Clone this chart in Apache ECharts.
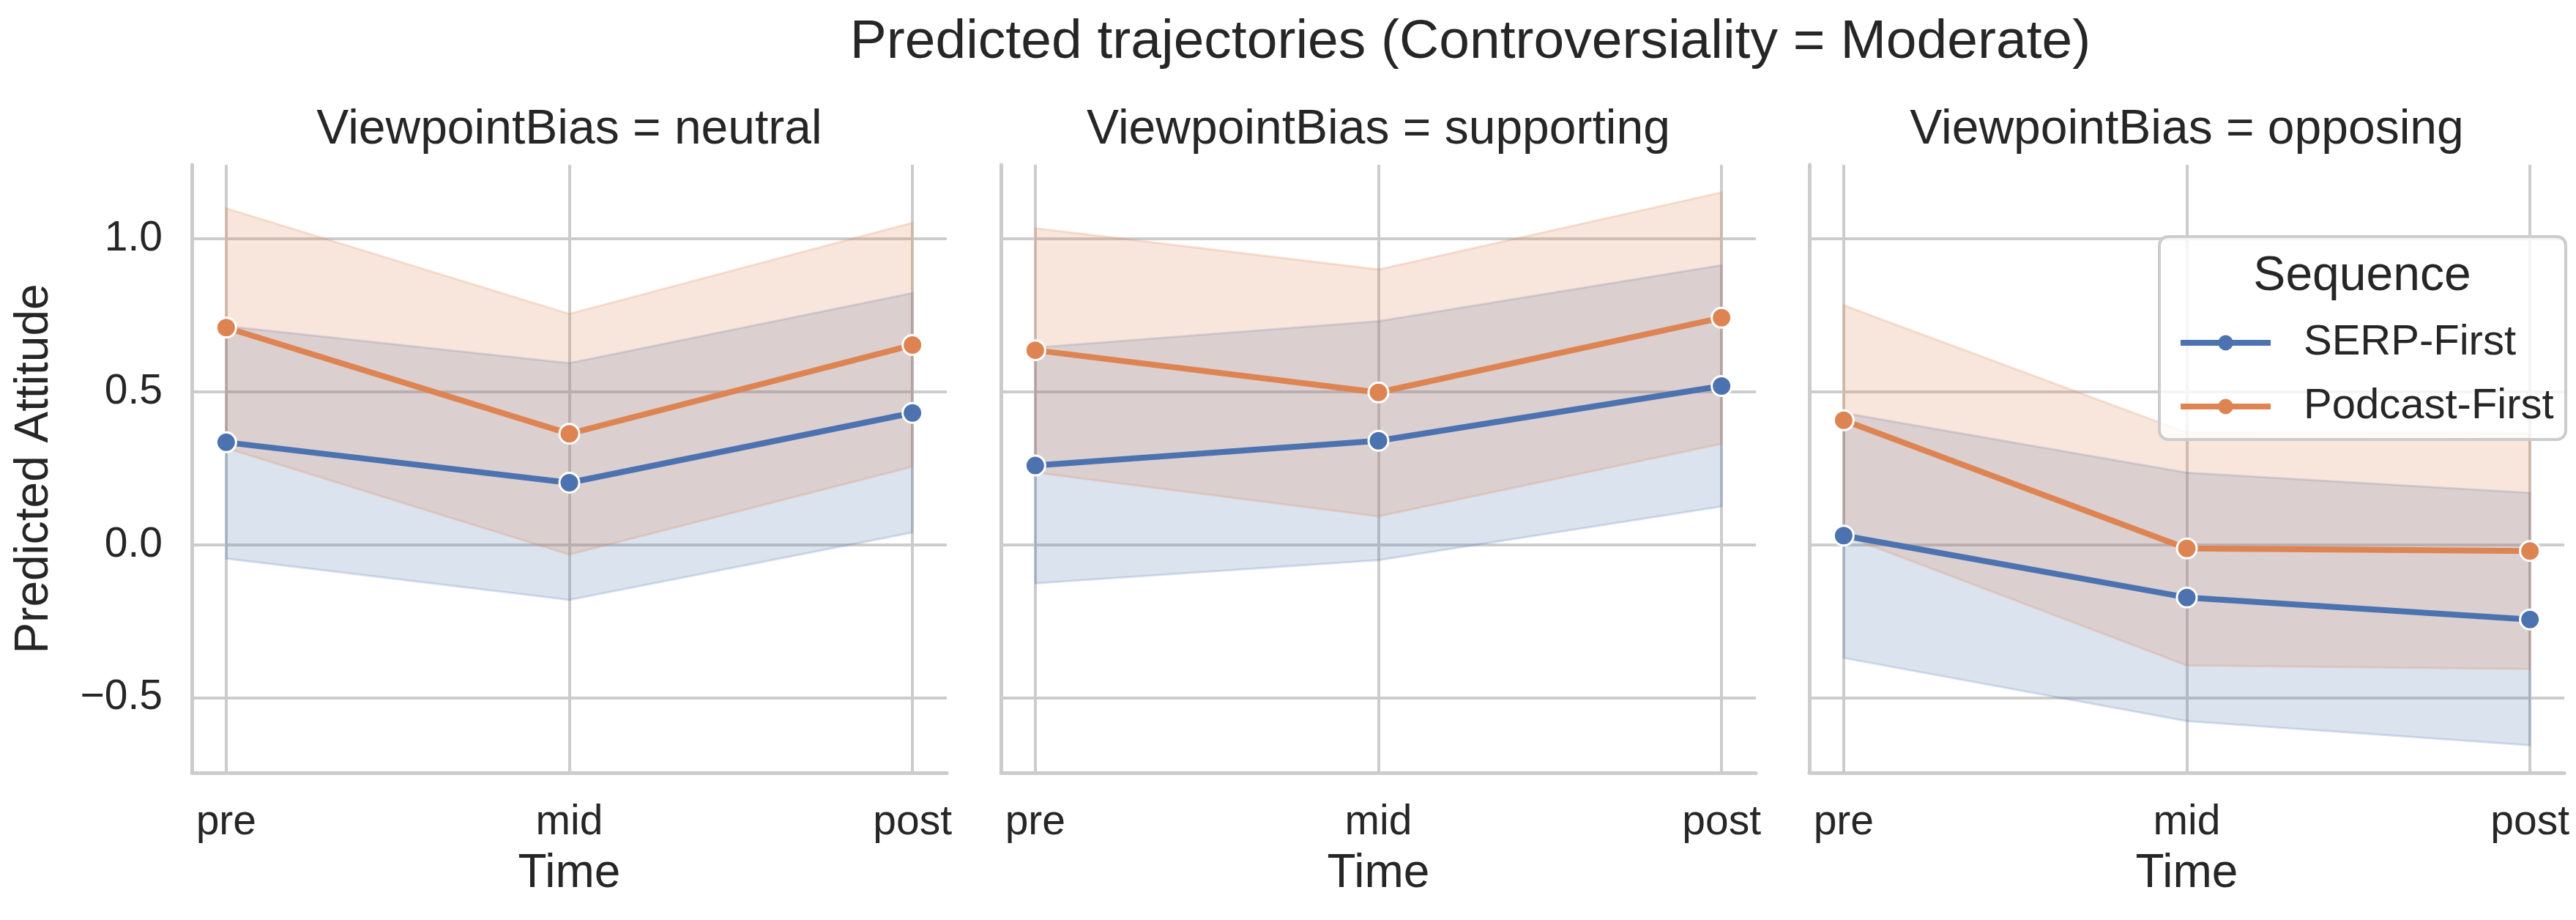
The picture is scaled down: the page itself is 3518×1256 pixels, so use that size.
<!DOCTYPE html>
<html>
<head>
<meta charset="utf-8">
<script src="https://cdn.jsdelivr.net/npm/echarts@6/dist/echarts.min.js"></script>
<style>
html,body{margin:0;padding:0;background:#ffffff;}
#chart{width:3518px;height:1256px;}
</style>
</head>
<body>
<div id="chart"></div>
<script>
// ---- data ----
const times = ['pre', 'mid', 'post'];
const panels = ['neutral', 'supporting', 'opposing'];
const sequences = ['SERP-First', 'Podcast-First'];
const yTicks = [-0.5, 0, 0.5, 1.0];

// rows = panels (neutral, supporting, opposing); cols = times (pre, mid, post)
const serpMean  = [[0.335, 0.203, 0.431], [0.259, 0.340, 0.519], [0.030, -0.172, -0.244]];
const serpLower = [[-0.045, -0.180, 0.040], [-0.126, -0.050, 0.125], [-0.370, -0.576, -0.655]];
const serpUpper = [[0.715, 0.594, 0.823], [0.645, 0.731, 0.914], [0.431, 0.236, 0.170]];

const podMean  = [[0.710, 0.363, 0.653], [0.636, 0.498, 0.742], [0.407, -0.012, -0.020]];
const podLower = [[0.316, -0.032, 0.255], [0.236, 0.093, 0.330], [0.031, -0.394, -0.406]];
const podUpper = [[1.100, 0.755, 1.053], [1.035, 0.900, 1.152], [0.783, 0.367, 0.366]];

// ---- styling ----
const FONT = '"Liberation Sans", Arial, Helvetica, sans-serif';
const TEXT = '#262626';
const GRIDC = '#cccccc';
const BLUE = '#4c72b0';
const ORANGE = '#dd8452';
const BLUE_A = 'rgba(76,114,176,0.2)';
const ORANGE_A = 'rgba(221,132,82,0.2)';

const gridLeft = [262, 1367, 2471];
const gridW = 1031, gridTop = 225, gridH = 830;

function fmtY(v) {
  if (Math.abs(v * 2 - Math.round(v * 2)) > 1e-9) return '';
  const s = Math.abs(v).toFixed(1);
  return v < 0 ? '\u2212' + s : s;
}
function fmtX(v) {
  const r = Math.round(v);
  if (Math.abs(v - r) > 1e-9) return '';
  return times[r] || '';
}

function bandRender(params, api) {
  if (params.dataIndexInside !== 0) return null;
  const n = params.dataInsideLength;
  const up = [], lo = [];
  for (let j = 0; j < n; j++) {
    up.push(api.coord([api.value(0, j), api.value(2, j)]));
    lo.push(api.coord([api.value(0, j), api.value(1, j)]));
  }
  return {
    type: 'polygon',
    shape: { points: up.concat(lo.reverse()) },
    style: api.style()
  };
}

const grids = [], xAxes = [], yAxes = [], series = [];

panels.forEach((p, i) => {
  grids.push({ left: gridLeft[i], top: gridTop, width: gridW, height: gridH });
  xAxes.push({
    gridIndex: i, type: 'value', min: -0.1, max: 2.1,
    splitNumber: 2, minInterval: 1, maxInterval: 1,
    axisLine: { show: true, onZero: false, lineStyle: { color: GRIDC, width: 5 } },
    axisTick: { show: false },
    axisLabel: { showMinLabel: false, showMaxLabel: false, formatter: fmtX,
                 fontSize: 57, color: TEXT, fontFamily: FONT, margin: 40 },
    splitLine: { show: true, showMinLine: false, showMaxLine: false,
                 lineStyle: { color: GRIDC, width: 4 } },
    name: 'Time', nameLocation: 'middle', nameGap: 106,
    nameTextStyle: { fontSize: 64, color: TEXT, fontFamily: FONT }
  });
  yAxes.push({
    gridIndex: i, type: 'value', min: -0.745, max: 1.242, splitNumber: 4,
    axisLine: { show: true, onZero: false, lineStyle: { color: GRIDC, width: 5 } },
    axisTick: { show: false },
    axisLabel: { show: i === 0, showMinLabel: false, showMaxLabel: false, formatter: fmtY,
                 fontSize: 57, color: TEXT, fontFamily: FONT, margin: 40 },
    splitLine: { show: true, showMinLine: false, showMaxLine: false,
                 lineStyle: { color: GRIDC, width: 4 } },
    name: i === 0 ? 'Predicted Attitude' : '', nameLocation: 'middle', nameRotate: 90, nameGap: 183,
    nameTextStyle: { fontSize: 64, color: TEXT, fontFamily: FONT }
  });

  const groups = [
    { name: sequences[0], mean: serpMean[i], lo: serpLower[i], up: serpUpper[i], c: BLUE, a: BLUE_A },
    { name: sequences[1], mean: podMean[i], lo: podLower[i], up: podUpper[i], c: ORANGE, a: ORANGE_A }
  ];
  groups.forEach(g => {
    series.push({
      type: 'custom', name: g.name + ' CI', xAxisIndex: i, yAxisIndex: i,
      renderItem: bandRender, silent: true, z: 2,
      itemStyle: { color: g.a, borderColor: g.a, borderWidth: 3 },
      encode: { x: 0, y: [1, 2] },
      data: times.map((t, j) => [j, g.lo[j], g.up[j]])
    });
  });
  groups.forEach(g => {
    series.push({
      type: 'line', name: g.name, xAxisIndex: i, yAxisIndex: i, z: 5,
      symbol: 'circle', symbolSize: 27, showSymbol: true,
      itemStyle: { color: g.c, borderColor: '#ffffff', borderWidth: 3 },
      lineStyle: { color: g.c, width: 8 },
      emphasis: { disabled: true },
      data: times.map((t, j) => [j, g.mean[j]])
    });
  });
});

const graphics = [
  { type: 'text', x: 2008, y: 58, z: 50,
    style: { text: 'Predicted trajectories (Controversiality = Moderate)', font: '75px ' + FONT,
             fill: TEXT, textAlign: 'center', textVerticalAlign: 'middle', align: 'center', verticalAlign: 'middle' } }
];
panels.forEach((p, i) => {
  graphics.push({ type: 'text', x: gridLeft[i] + gridW / 2, y: 178, z: 50,
    style: { text: 'ViewpointBias = ' + p, font: '66px ' + FONT, fill: TEXT,
             textAlign: 'center', textVerticalAlign: 'middle', align: 'center', verticalAlign: 'middle' } });
});
graphics.push({ type: 'rect', z: 100,
  shape: { x: 2949, y: 323, width: 555, height: 277, r: 12 },
  style: { fill: 'rgba(255,255,255,0.8)', stroke: '#cccccc', lineWidth: 4 } });
graphics.push({ type: 'text', x: 3226, y: 378, z: 110,
  style: { text: 'Sequence', font: '66px ' + FONT, fill: TEXT,
           textAlign: 'center', textVerticalAlign: 'middle', align: 'center', verticalAlign: 'middle' } });

const option = {
  animation: false,
  backgroundColor: '#ffffff',
  textStyle: { fontFamily: FONT },
  grid: grids,
  xAxis: xAxes,
  yAxis: yAxes,
  series: series,
  graphic: { elements: graphics },
  legend: {
    data: sequences, orient: 'vertical', left: 2969, top: 433, z: 120,
    selectedMode: false, itemWidth: 123, itemHeight: 26, itemGap: 27,
    lineStyle: { width: 8 },
    itemStyle: { borderWidth: 0 },
    textStyle: { fontSize: 58, color: TEXT, fontFamily: FONT, lineHeight: 60, padding: [0, 0, 0, 40] }
  }
};

const chart = echarts.init(document.getElementById('chart'), null, { renderer: 'canvas' });
chart.setOption(option);
</script>
</body>
</html>
